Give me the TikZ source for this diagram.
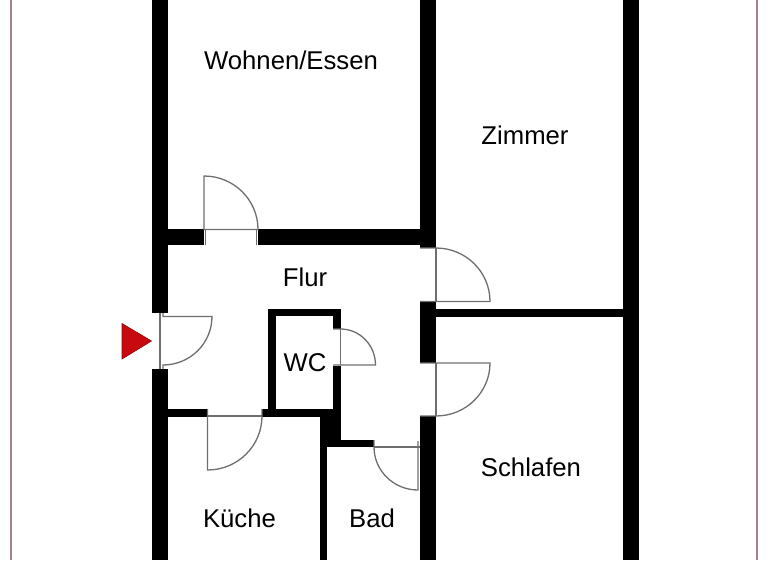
\documentclass[tikz,border=0pt]{standalone}
\usepackage{fontspec}
\setmainfont{Liberation Sans}
\usetikzlibrary{backgrounds}
\definecolor{framecolor}{HTML}{A88088}
\definecolor{doorcolor}{HTML}{6E6E6E}
\definecolor{markcolor}{HTML}{C80A10}
\newcommand{\wallcolor}{black}
\newcommand{\doorwidth}{1.3pt}
\tikzset{
  roomlabel/.style={inner sep=0pt, font=\fontsize{25.7}{27}\selectfont},
  wall/.style={fill=\wallcolor},
  door/.style={draw=doorcolor, line width=\doorwidth},
}

\begin{document}
\begin{tikzpicture}[x=1pt, y=-1pt]
\useasboundingbox (0,0) rectangle (768,560);
%frame
\draw[framecolor, line width=2pt] (11,0) -- (11,560);
\draw[framecolor, line width=2pt] (757,0) -- (757,560);
%outer walls
\fill[wall] (152,0) rectangle (168,313);
\fill[wall] (152,369) rectangle (168,560);
\fill[wall] (623,0) rectangle (639,560);
%centre wall
\fill[wall] (420,0) rectangle (436,248);
\fill[wall] (420,301) rectangle (436,363);
\fill[wall] (420,416) rectangle (436,560);
%Flur top
\fill[wall] (168,229) rectangle (204,245);
\fill[wall] (258,229) rectangle (420,245);
%Zimmer / Schlafen
\fill[wall] (436,309) rectangle (623,317);
%WC
\fill[wall] (268,309) rectangle (341,316);
\fill[wall] (268,309) rectangle (276,410);
\fill[wall] (333,309) rectangle (341,329);
\fill[wall] (333,366) rectangle (341,447);
%Kueche top
\fill[wall] (168,409) rectangle (207,417);
\fill[wall] (262,409) rectangle (320,417);
%Bad
\fill[wall] (320,409) rectangle (341,447);
\fill[wall] (320,440) rectangle (374,447);
\fill[wall] (320,447) rectangle (327,560);
%doors
\draw[door] (204,229.5) -- (204,176) arc (-90:0:54 and 53.5) -- cycle;
\draw[door] (205.5,229.5) -- (205.5,245) (256.5,229.5) -- (256.5,245);
\draw[door] (163,313) -- (163,316.5) -- (212,316.5) arc (0:90:49 and 48.5) -- (163,369);
\draw[door] (160,313) -- (160,369);
\draw[door] (420,248) -- (436,248) arc (-90:0:54 and 53.5) -- (420,301.5);
\draw[door] (436,248) -- (436,301.5);
\draw[door] (420,363) -- (490,363) arc (0:90:54 and 53) -- (420,416);
\draw[door] (436,363) -- (436,416);
\draw[door] (333,329) -- (340.5,329) arc (-90:0:35 and 36) -- (333,365);
\draw[door] (340.5,329) -- (340.5,365);
\draw[door] (374,440) -- (374,447) arc (180:90:44 and 43) -- (418,441);
\draw[door] (374,447) -- (420,447);
\draw[door] (207.5,409) -- (207.5,470) arc (90:0:54.5 and 54) -- (262,409);
\draw[door] (207.5,416) -- (262,416);
%entrance
\fill[markcolor, draw=markcolor!70!black, line width=0.6pt] (122,323.5) -- (151.5,341) -- (122,359) -- cycle;
%rooms
\node[roomlabel] (wohnen) at (291,60) {Wohnen/Essen};
\node[roomlabel] (zimmer) at (525,135) {Zimmer};
\node[roomlabel] (flur) at (305,277) {Flur};
\node[roomlabel] (wc) at (305,362.5) {WC};
\node[roomlabel] (schlafen) at (531,467) {Schlafen};
\node[roomlabel] (kueche) at (239.5,518) {Küche};
\node[roomlabel] (bad) at (372,518) {Bad};
\end{tikzpicture}
\end{document}
